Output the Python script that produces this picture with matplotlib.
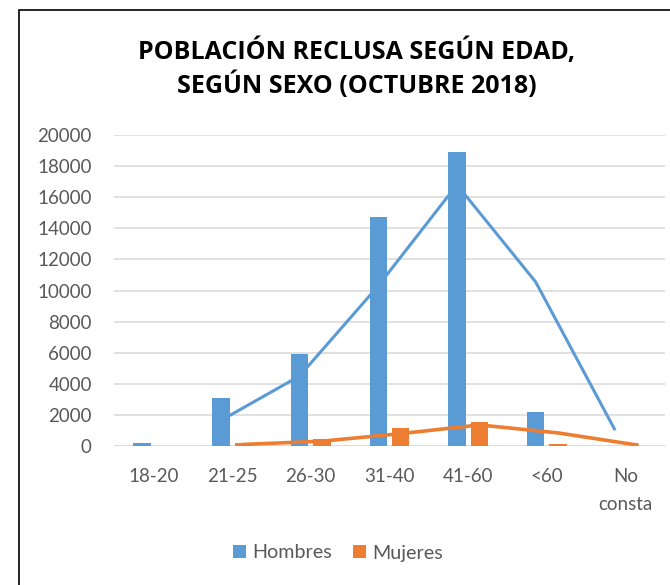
import matplotlib
matplotlib.use("Agg")
import matplotlib.pyplot as plt
import numpy as np
from matplotlib.patches import Rectangle

categories = ["18-20", "21-25", "26-30", "31-40", "41-60", "<60", "No\nconsta"]
hombres = [170, 3100, 5900, 14700, 18900, 2200, 0]
mujeres = [10, 190, 430, 1160, 1550, 130, 0]
# trend lines (2-period moving average)
hombres_trend = [np.nan, 1640, 4500, 10300, 16800, 10550, 1100]
mujeres_trend = [np.nan, 100, 310, 795, 1355, 840, 65]
yticks = [0, 2000, 4000, 6000, 8000, 10000, 12000, 14000, 16000, 18000, 20000]

plt.rcParams['font.family'] = ['Lato', 'DejaVu Sans']

W, H = 670, 585
fig = plt.figure(figsize=(W / 100, H / 100), dpi=100)
ax = fig.add_axes([114 / W, 1 - 446 / H, (665 - 114) / W, (446 - 135) / H])

blue = "#5b9bd5"
orange = "#ed7d31"
x = np.arange(len(categories))
bw = 0.222
off = 0.143
ax.bar(x - off, hombres, bw, color=blue, zorder=3, label="Hombres")
ax.bar(x + off, mujeres, bw, color=orange, zorder=3, label="Mujeres")
ax.plot(x - off, hombres_trend, color=blue, lw=2.2, zorder=2)
ax.plot(x + off, mujeres_trend, color=orange, lw=2.6, zorder=4)

ax.set_xlim(-0.5, len(categories) - 0.5)
ax.set_ylim(0, 20000)
ax.set_yticks(yticks)
ax.set_yticklabels([str(v) for v in yticks])
ax.set_xticks(x)
ax.set_xticklabels(categories, va="top", linespacing=1.75)
ax.tick_params(axis="both", length=0, labelsize=13.5, labelcolor="#595959")
ax.tick_params(axis="x", pad=16)
ax.tick_params(axis="y", pad=16)
ax.grid(axis="y", color="#d9d9d9", lw=1.1, zorder=0)
for s in ax.spines.values():
    s.set_visible(False)
ax.axhline(0, color="#d9d9d9", lw=1.1, zorder=1)

fig.text(357 / W, 1 - 69 / H,
         "POBLACIÓN RECLUSA SEGÚN EDAD,\nSEGÚN SEXO (OCTUBRE 2018)",
         ha="center", va="center", fontsize=18, fontweight="bold",
         family=["Open Sans", "DejaVu Sans"],
         color="#000000", linespacing=1.32)

leg = fig.legend(loc="center", bbox_to_anchor=(338 / W, 1 - 553 / H), ncol=2,
                 frameon=False, fontsize=14.2, handlelength=0.65, handleheight=0.65,
                 handletextpad=0.3, columnspacing=1.1)
for t in leg.get_texts():
    t.set_color("#595959")

fig.patches.append(Rectangle((19 / W, -0.01), 1.0, 1 - 10 / H + 0.01,
                             transform=fig.transFigure, fill=False,
                             edgecolor="#000000", lw=1.2))

fig.savefig("out.png", dpi=100)
